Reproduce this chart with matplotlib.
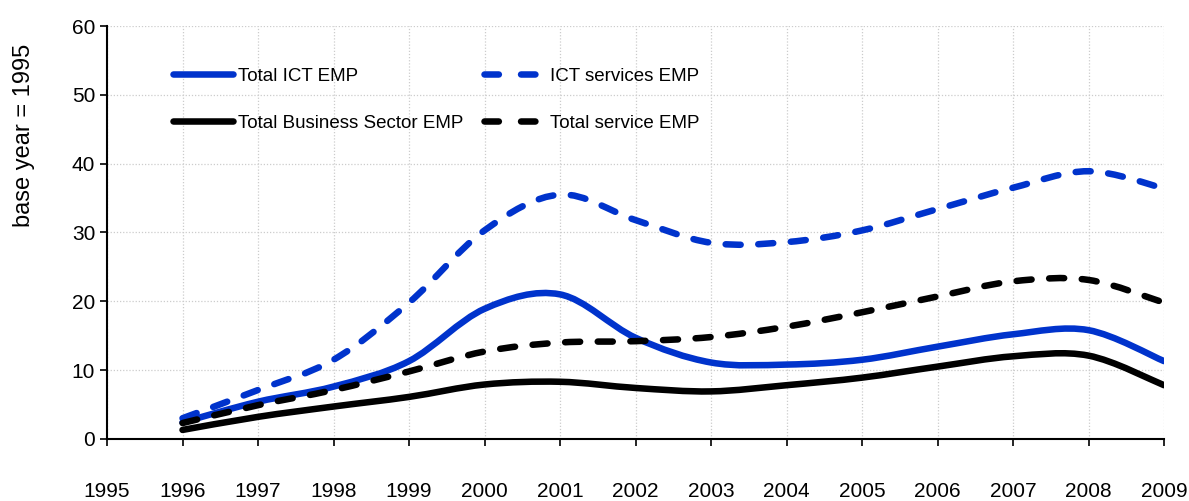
import matplotlib.pyplot as plt
from matplotlib.path import Path
from matplotlib.patches import PathPatch
from matplotlib.lines import Line2D
import numpy as np

plt.rcParams['font.family'] = ['Liberation Sans', 'DejaVu Sans']

years = [1996, 1997, 1998, 1999, 2000, 2001, 2002, 2003, 2004, 2005, 2006, 2007, 2008, 2009]
ict_total = [2.4, 5.4, 7.6, 11.3, 18.9, 21.0, 14.7, 11.1, 10.8, 11.5, 13.4, 15.2, 15.8, 11.3]
ict_services = [3.0, 7.1, 11.5, 19.8, 30.3, 35.5, 31.8, 28.5, 28.6, 30.3, 33.4, 36.5, 38.9, 36.4]
business_total = [1.3, 3.2, 4.7, 6.1, 7.9, 8.3, 7.4, 6.9, 7.8, 8.9, 10.5, 12.0, 12.1, 7.8]
service_total = [2.3, 4.9, 7.1, 9.8, 12.7, 14.0, 14.2, 14.8, 16.3, 18.4, 20.7, 22.9, 23.1, 19.8]
xticks = list(range(1995, 2010))

BLUE = '#0033cc'


def smooth_path(x, y):
    # Excel style smoothed line: cubic bezier between neighbouring points
    pts = np.column_stack([x, y]).astype(float)
    n = len(pts)
    verts = [pts[0]]
    codes = [Path.MOVETO]
    for i in range(n - 1):
        p0 = pts[i - 1] if i > 0 else pts[i]
        p1 = pts[i]
        p2 = pts[i + 1]
        p3 = pts[i + 2] if i + 2 < n else pts[i + 1]
        c1 = p1 + (p2 - p0) / 6.0
        c2 = p2 - (p3 - p1) / 6.0
        verts += [c1, c2, p2]
        codes += [Path.CURVE4] * 3
    return Path(verts, codes)


fig = plt.figure(figsize=(11.89, 5.01), dpi=100)
ax = fig.add_axes([0.09, 0.124, 0.889, 0.824])

# order so that the 2-column legend reads row by row like the original
series = [
    (ict_total, BLUE, '-', 'Total ICT EMP'),
    (business_total, 'black', '-', 'Total Business Sector EMP'),
    (ict_services, BLUE, '--', 'ICT services EMP'),
    (service_total, 'black', '--', 'Total service EMP'),
]

lw = 4.7
dash = (0, (2.3, 2.7))
leg_dash = (0, (2.2, 3.4))
handles = []
for vals, col, ls, lab in series:
    style = '-' if ls == '-' else dash
    patch = PathPatch(smooth_path(years, vals), fill=False, edgecolor=col,
                      lw=lw, linestyle=style, capstyle='round', joinstyle='round', zorder=3)
    ax.add_patch(patch)
    handles.append(Line2D([], [], color=col, lw=lw, linestyle='-' if ls == '-' else leg_dash,
                          solid_capstyle='round', dash_capstyle='round', label=lab))

ax.set_xlim(1995, 2009)
ax.set_ylim(0, 60)
ax.set_xticks(xticks)
ax.set_yticks(range(0, 61, 10))
ax.tick_params(axis='x', direction='out', length=5, width=1.2, pad=26, labelsize=15)
ax.tick_params(axis='y', direction='out', length=5, width=1.2, labelsize=15)
ax.grid(True, color='#cccccc', linestyle=(0, (1, 1.5)), linewidth=0.9)
ax.set_axisbelow(True)
for s in ['top', 'right']:
    ax.spines[s].set_visible(False)
for s in ['left', 'bottom']:
    ax.spines[s].set_linewidth(1.5)

ax.set_ylabel('base year = 1995', fontsize=17)
ax.yaxis.set_label_coords(-0.068, 0.735)

ax.legend(handles=handles, ncol=2, frameon=False, fontsize=13.5,
          loc='upper left', bbox_to_anchor=(0.046, 0.94),
          handlelength=3.2, handletextpad=0.3, columnspacing=1.1,
          labelspacing=1.6)

fig.savefig('out.png', dpi=100)
